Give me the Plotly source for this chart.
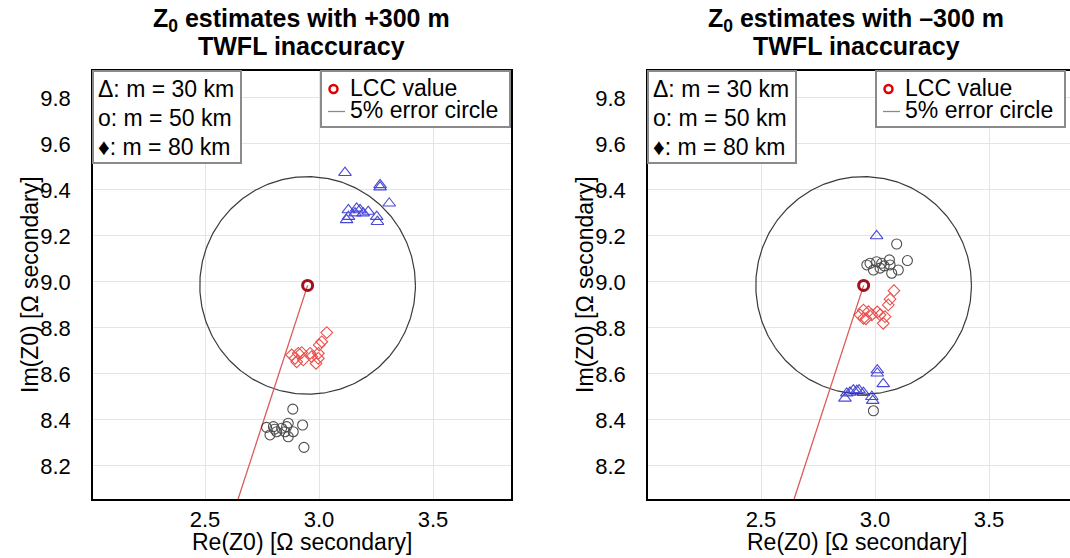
import numpy as np
import plotly.graph_objects as go

W, H = 1070, 558

# ---------------- data ----------------
lcc_re, lcc_im = 2.95, 8.985
error_pct = 0.05

# +300 m TWFL inaccuracy (left)
p_tri_re = [3.114, 3.268, 3.268, 3.308, 3.165, 3.180, 3.129, 3.216, 3.129, 3.121, 3.253, 3.256, 3.158, 3.194]
p_tri_im = [9.475, 9.422, 9.412, 9.342, 9.320, 9.313, 9.313, 9.306, 9.284, 9.270, 9.284, 9.262, 9.299, 9.299]
p_cir_re = [2.885, 2.928, 2.934, 2.770, 2.800, 2.814, 2.785, 2.858, 2.865, 2.887, 2.836, 2.851, 2.805, 2.865]
p_cir_im = [8.447, 8.378, 8.281, 8.368, 8.371, 8.349, 8.335, 8.371, 8.327, 8.349, 8.364, 8.349, 8.360, 8.386]
p_dia_re = [3.034, 3.012, 3.001, 2.909, 2.924, 2.895, 2.961, 2.968, 2.997, 2.997, 2.987, 2.880, 2.931, 2.902]
p_dia_im = [8.780, 8.740, 8.726, 8.690, 8.693, 8.668, 8.690, 8.675, 8.690, 8.668, 8.646, 8.683, 8.661, 8.653]

# -300 m TWFL inaccuracy (right)
m_tri_re = [3.007, 3.010, 3.010, 3.036, 2.905, 2.920, 2.876, 2.868, 2.949, 2.986, 2.990, 2.930, 2.890]
m_tri_im = [9.200, 8.617, 8.603, 8.557, 8.530, 8.527, 8.516, 8.494, 8.519, 8.501, 8.484, 8.530, 8.520]
m_cir_re = [3.095, 3.142, 2.978, 3.007, 3.029, 3.063, 3.066, 2.993, 3.022, 3.102, 3.073, 2.964, 3.040, 2.993]
m_cir_im = [9.165, 9.093, 9.081, 9.088, 9.081, 9.096, 9.074, 9.052, 9.060, 9.052, 9.038, 9.074, 9.070, 8.440]
m_dia_re = [3.083, 3.066, 3.058, 2.949, 2.971, 2.934, 3.022, 2.986, 3.044, 3.036, 2.949, 3.010, 2.960]
m_dia_im = [8.962, 8.925, 8.900, 8.878, 8.871, 8.857, 8.857, 8.857, 8.849, 8.820, 8.842, 8.870, 8.840]

titles_line1 = ["<b>Z<sub>0</sub> estimates with +300 m</b>", "<b>Z<sub>0</sub> estimates with \u2013300 m</b>"]
title_line2 = "<b>TWFL inaccuracy</b>"
x_title = "Re(Z0) [\u03a9 secondary]"
y_title = "Im(Z0) [\u03a9 secondary]"
legend_marker_text = ["\u0394: m = 30 km", "o: m = 50 km", "\u2666: m = 80 km"]
legend_lcc = "LCC value"
legend_circle = "5% error circle"
x_ticks = [2.5, 3.0, 3.5]
x_ticklabels = ["2.5", "3.0", "3.5"]
y_ticks = [8.2, 8.4, 8.6, 8.8, 9.0, 9.2, 9.4, 9.6, 9.8]
y_ticklabels = ["8.2", "8.4", "8.6", "8.8", "9.0", "9.2", "9.4", "9.6", "9.8"]

# ---------------- styling ----------------
FONT = "Liberation Sans, Arial, sans-serif"
BLUE = "#2a2acf"
BLACK = "#303030"
RED = "#e8322e"
LCC_COL = "#a3101e"
LINE_RED = "#dc5a5a"

def fx(px):
    return px / W

def fy(py):
    return 1 - py / H

fig = go.Figure()

panels = [
    dict(xa="x", ya="y", tri=(p_tri_re, p_tri_im), cir=(p_cir_re, p_cir_im), dia=(p_dia_re, p_dia_im)),
    dict(xa="x2", ya="y2", tri=(m_tri_re, m_tri_im), cir=(m_cir_re, m_cir_im), dia=(m_dia_re, m_dia_im)),
]

radius = error_pct * np.hypot(lcc_re, lcc_im)
theta = np.linspace(0, 2 * np.pi, 361)
circ_x = lcc_re + radius * np.cos(theta)
circ_y = lcc_im + radius * np.sin(theta)

for p in panels:
    ax = dict(xaxis=p["xa"], yaxis=p["ya"], showlegend=False)
    fig.add_trace(go.Scatter(x=circ_x, y=circ_y, mode="lines",
                             line=dict(color="#3a3a3a", width=1.2), hoverinfo="skip", **ax))
    fig.add_trace(go.Scatter(x=[0, lcc_re], y=[0, lcc_im], mode="lines",
                             line=dict(color=LINE_RED, width=1.3), hoverinfo="skip", **ax))
    fig.add_trace(go.Scatter(x=p["cir"][0], y=p["cir"][1], mode="markers",
                             marker=dict(symbol="circle-open", size=10, color=BLACK,
                                         line=dict(width=1.1, color=BLACK)), opacity=0.85, **ax))
    fig.add_trace(go.Scatter(x=p["dia"][0], y=p["dia"][1], mode="markers",
                             marker=dict(symbol="diamond-open", size=9, color=RED,
                                         line=dict(width=1.1, color=RED)), opacity=0.85, **ax))
    fig.add_trace(go.Scatter(x=p["tri"][0], y=p["tri"][1], mode="markers",
                             marker=dict(symbol="triangle-up-open", size=11, color=BLUE,
                                         line=dict(width=1.1, color=BLUE)), opacity=0.85, **ax))
    fig.add_trace(go.Scatter(x=[lcc_re], y=[lcc_im], mode="markers",
                             marker=dict(symbol="circle-open", size=10, color=LCC_COL,
                                         line=dict(width=3, color=LCC_COL)), **ax))

# axis ranges (same scale in both panels)
x_left_px, x_right_px = 93, 511
x2_left_px = 648
y_top_px, y_bot_px = 71, 499
xr = [2.0088, 3.842]
xr2 = [2.0044, 3.855]
yr = [8.0565, 9.917]

common_x = dict(tickvals=x_ticks, ticktext=x_ticklabels, showgrid=True, gridcolor="#e4e4e4",
                gridwidth=1, zeroline=False, showline=True, linecolor="black", linewidth=1.5,
                ticks="", ticklabelstandoff=0, tickfont=dict(family=FONT, size=22, color="black"))
common_y = dict(tickvals=y_ticks, ticktext=y_ticklabels, showgrid=True, gridcolor="#e4e4e4",
                gridwidth=1, zeroline=False, showline=True, linecolor="black", linewidth=1.5,
                ticks="", ticklabelstandoff=16, tickfont=dict(family=FONT, size=22, color="black"))

fig.update_layout(
    width=W, height=H, margin=dict(l=0, r=0, t=0, b=0),
    paper_bgcolor="white", plot_bgcolor="white", showlegend=False,
    font=dict(family=FONT, color="black"),
    xaxis=dict(domain=[fx(x_left_px), fx(x_right_px)], range=xr, mirror=True, anchor="y", **common_x),
    yaxis=dict(domain=[fy(y_bot_px), fy(y_top_px)], range=yr, mirror=True, anchor="x", **common_y),
    xaxis2=dict(domain=[fx(x2_left_px), 1.0], range=xr2, mirror=True, anchor="y2", **common_x),
    yaxis2=dict(domain=[fy(y_bot_px), fy(y_top_px)], range=yr, mirror=False, anchor="x2", **common_y),
)

shapes = []
annotations = []
for i, off in enumerate([0, 555]):
    cx = 301 + off
    annotations.append(dict(x=fx(cx), y=fy(20), xref="paper", yref="paper", text=titles_line1[i],
                            showarrow=False, xanchor="center", yanchor="middle",
                            font=dict(family=FONT, size=25, color="black")))
    annotations.append(dict(x=fx(cx), y=fy(46), xref="paper", yref="paper", text=title_line2,
                            showarrow=False, xanchor="center", yanchor="middle",
                            font=dict(family=FONT, size=25, color="black")))
    # axis titles
    annotations.append(dict(x=fx(302 + off), y=fy(542), xref="paper", yref="paper", text=x_title,
                            showarrow=False, xanchor="center", yanchor="middle",
                            font=dict(family=FONT, size=23, color="black")))
    annotations.append(dict(x=fx(30 + off), y=fy(285), xref="paper", yref="paper", text=y_title,
                            showarrow=False, xanchor="center", yanchor="middle", textangle=-90,
                            font=dict(family=FONT, size=23, color="black")))
    # marker key box
    shapes.append(dict(type="rect", xref="paper", yref="paper", x0=fx(93 + off), x1=fx(241 + off),
                       y0=fy(163), y1=fy(71), line=dict(color="#8a8a8a", width=2), fillcolor="white"))
    for j, t in enumerate(legend_marker_text):
        annotations.append(dict(x=fx(96 + off), y=fy(89 + 29 * j), xref="paper", yref="paper", text=t,
                                showarrow=False, xanchor="left", yanchor="middle",
                                font=dict(family=FONT, size=23, color="black")))
    # legend box
    lx = 321 + off
    shapes.append(dict(type="rect", xref="paper", yref="paper", x0=fx(lx), x1=fx(lx + 189),
                       y0=fy(127), y1=fy(71), line=dict(color="#8a8a8a", width=2), fillcolor="white"))
    shapes.append(dict(type="circle", xref="paper", yref="paper", x0=fx(lx + 8.5), x1=fx(lx + 16.5),
                       y0=fy(93), y1=fy(85), line=dict(color="#e00000", width=2.5)))
    shapes.append(dict(type="line", xref="paper", yref="paper", x0=fx(lx + 7), x1=fx(lx + 24),
                       y0=fy(111.5), y1=fy(111.5), line=dict(color="#8a8a8a", width=1.3)))
    annotations.append(dict(x=fx(lx + 27), y=fy(88), xref="paper", yref="paper", text=legend_lcc,
                            showarrow=False, xanchor="left", yanchor="middle",
                            font=dict(family=FONT, size=23, color="black")))
    annotations.append(dict(x=fx(lx + 27), y=fy(110), xref="paper", yref="paper", text=legend_circle,
                            showarrow=False, xanchor="left", yanchor="middle",
                            font=dict(family=FONT, size=23, color="black")))

fig.update_layout(shapes=shapes, annotations=annotations)
fig.write_html("out.html", config={"displayModeBar": False},
               post_script="document.body.style.margin='0px';document.body.style.overflow='hidden';")
